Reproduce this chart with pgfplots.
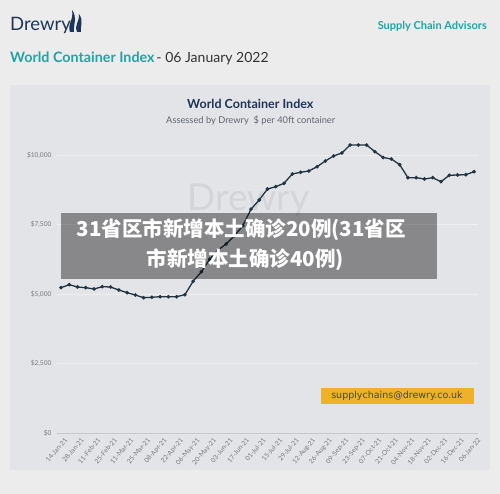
\documentclass[border=0pt]{standalone}
\usepackage{pgfplots}
\pgfplotsset{compat=1.18}
\usepackage{pgfplotstable}
\usepackage{fontspec}
\setmainfont{Lato}
\newfontfamily\cjk{Noto Sans CJK SC}
\newfontfamily\dejavu{DejaVu Sans}
\definecolor{bgout}{HTML}{ECECEC}
\definecolor{panel}{HTML}{E3E4E7}
\definecolor{navy}{HTML}{1D3557}
\definecolor{drteal}{HTML}{22A3A6}
\definecolor{linec}{HTML}{223444}
\definecolor{gold}{HTML}{EFB12A}
\definecolor{labc}{HTML}{777A7E}
\definecolor{gridc}{HTML}{EEEFF1}
\definecolor{zeroc}{HTML}{C8C9CC}
\definecolor{wmark}{HTML}{D4D5D8}
\definecolor{subc}{HTML}{5F6670}

\pgfplotstableread{
i v
0 5227
1 5335
2 5252
3 5227
4 5180
5 5263
6 5252
7 5144
8 5047
9 4964
10 4867
11 4881
12 4904
13 4904
14 4904
15 4975
16 5460
17 5800
18 6250
19 6580
20 6800
21 7100
22 7450
23 8050
24 8381
25 8777
26 8860
27 8982
28 9317
29 9378
30 9424
31 9579
32 9784
33 9964
34 10072
35 10360
36 10360
37 10360
38 10119
39 9910
40 9856
41 9651
42 9183
43 9183
44 9137
45 9183
46 9040
47 9270
48 9281
49 9291
50 9399
}\wci

\begin{document}
\begin{tikzpicture}[x=1bp,y=1bp]
\useasboundingbox (0,0) rectangle (500,494);
\fill[bgout] (0,0) rectangle (500,494);
\fill[panel] (10,24) rectangle (490,409);

% header
\node[anchor=base west, inner sep=0, text=navy, font=\fontsize{18.5bp}{20bp}\selectfont] at (10,463) {Drewry};
\fill[navy] (70,462) .. controls (67,470) and (74,474) .. (72,484) .. controls (78,476) and (73,470) .. (74,462) -- cycle;
\fill[navy] (77,462) .. controls (74,469) and (80,473) .. (79,480) .. controls (84,473) and (80,468) .. (81,462) -- cycle;
\node[anchor=base east, inner sep=0, text=drteal, font=\bfseries\fontsize{11bp}{12bp}\selectfont] at (487,464) {Supply Chain Advisors};
\node[anchor=base west, inner sep=0, text=drteal, font=\bfseries\fontsize{14.3bp}{17bp}\selectfont] (hd) at (10,431.5) {World Container Index};
\node[anchor=base west, inner sep=0, text=black!80, font=\fontsize{14bp}{17bp}\selectfont] at ([xshift=1.5bp]hd.base east) {- 06 January 2022};

% chart titles
\node[anchor=base, inner sep=0, text=navy, font=\bfseries\fontsize{12.5bp}{14bp}\selectfont] at (250.3,385) {World Container Index};
\node[anchor=base, inner sep=0, text=subc, font=\fontsize{9.3bp}{11bp}\selectfont] at (250.7,370.7) {Assessed by Drewry\ \ \$ per 40ft container};

% watermark
\node[anchor=base, inner sep=0, text=wmark, font=\fontsize{37bp}{40bp}\selectfont] at (248.3,283) {Drewry};

\begin{axis}[
  at={(57bp,61bp)}, anchor=south west,
  width=421bp, height=305.8bp, scale only axis,
  xmin=-0.48, xmax=50.48, ymin=0, ymax=11000,
  scaled y ticks=false,
  axis line style={draw=none},
  tick style={draw=none},
  ytick={0,2500,5000,7500,10000},
  yticklabels={\$0,{\$2,500},{\$5,000},{\$7,500},{\$10,000}},
  ymajorgrids,
  major grid style={color=gridc, line width=0.7bp},
  xtick={0,2,...,50},
  xticklabels={14-Jan-21,28-Jan-21,11-Feb-21,25-Feb-21,11-Mar-21,25-Mar-21,08-Apr-21,22-Apr-21,06-May-21,20-May-21,03-Jun-21,17-Jun-21,01-Jul-21,15-Jul-21,29-Jul-21,12-Aug-21,26-Aug-21,09-Sep-21,23-Sep-21,07-Oct-21,21-Oct-21,04-Nov-21,18-Nov-21,02-Dec-21,16-Dec-21,06-Jan-22},
  tick label style={font=\fontsize{6.6bp}{7.5bp}\selectfont, text=labc},
  yticklabel style={xshift=-2bp},
  xticklabel style={rotate=50, anchor=north east, inner sep=1bp, yshift=-4bp},
  clip=false,
]
\draw[zeroc, line width=0.8bp] (axis cs:-0.48,0) -- (axis cs:50.48,0);
\addplot[linec, line width=1.3bp, mark=*, mark size=1.1bp, mark options={fill=linec}] table[x=i,y=v]{\wci};
\end{axis}

% email box
\fill[gold] (320.7,89.7) rectangle (474,106.3);
\node[anchor=base, inner sep=0, text=black!72, font=\dejavu\fontsize{9.5bp}{11bp}\selectfont] at (397,95) {supplychains@drewry.co.uk};

% overlay
\fill[black, fill opacity=0.4] (61,215) rectangle (437,281);
\node[anchor=base, inner sep=0, text=white, font=\cjk\bfseries\fontsize{20.5bp}{24bp}\selectfont] at (241.3,257.3) {31省区市新增本土确诊20例(31省区};
\node[anchor=base, inner sep=0, text=white, font=\cjk\bfseries\fontsize{20.5bp}{24bp}\selectfont] at (245.5,227.3) {市新增本土确诊40例)};
\end{tikzpicture}
\end{document}
